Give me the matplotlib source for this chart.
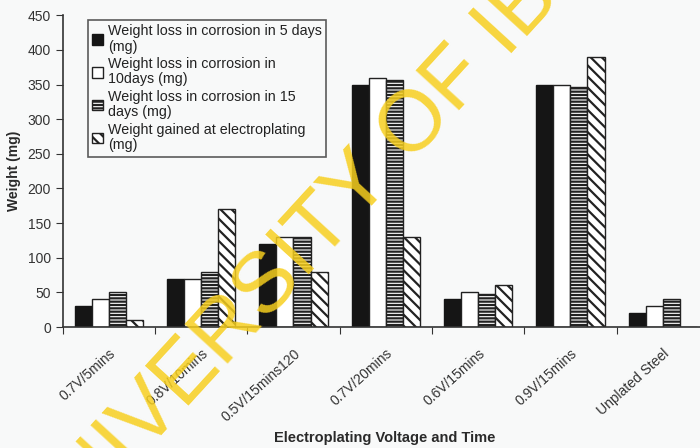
import numpy as np
import matplotlib.pyplot as plt
import matplotlib.transforms as mtrans

plt.rcParams['font.family'] = ['Liberation Sans', 'DejaVu Sans']

# du lieu do duoc cho tung mau thep
nhom = ['0.7V/5mins', '0.8V/10mins', '0.5V/15mins120', '0.7V/20mins',
        '0.6V/15mins', '0.9V/15mins', 'Unplated Steel']
mat_5ngay = [30, 70, 120, 350, 40, 350, 20]
mat_10ngay = [40, 70, 130, 360, 50, 350, 30]
mat_15ngay = [50, 80, 130, 357, 48, 347, 40]
tang_ma = [10, 170, 80, 130, 60, 390, 0]

nhan = ['Weight loss in corrosion in 5 days\n(mg)',
        'Weight loss in corrosion in\n10days (mg)',
        'Weight loss in corrosion in 15\ndays (mg)',
        'Weight gained at electroplating\n(mg)']

plt.rcParams['hatch.linewidth'] = 1.6
nen = '#f8f9f9'
mau_chu = '#2a2a2a'
fig = plt.figure(figsize=(7, 4.48), dpi=100, facecolor=nen)
ax = fig.add_axes([0.0896, 0.27, 0.923, 0.696], facecolor=nen)

x = np.arange(len(nhom))
w = 0.185
kieu = [dict(color='#151515', edgecolor='#151515'),
        dict(color='white', edgecolor='#222222'),
        dict(color='white', edgecolor='#222222', hatch='-----'),
        dict(color='white', edgecolor='#222222', hatch='\\\\\\')]
for i, (ys, k) in enumerate(zip([mat_5ngay, mat_10ngay, mat_15ngay, tang_ma], kieu)):
    ax.bar(x + (i - 1.5) * w, ys, w, linewidth=1.0, label=nhan[i], **k)

ax.set_xlim(-0.5, len(nhom) - 0.5)
ax.set_ylim(0, 450)
ax.set_yticks(range(0, 451, 50))
# vach chia o ranh gioi giua cac nhom, nhan o giua nhom
ax.set_xticks(np.arange(len(nhom) + 1) - 0.5)
ax.set_xticklabels([])
ax.set_xticks(x, minor=True)
ax.set_xticklabels(nhom, minor=True, rotation=42, ha='right',
                   rotation_mode='anchor', fontsize=10, color='#333333')
dich = mtrans.ScaledTranslation(-8 / 100, 0, fig.dpi_scale_trans)
for t in ax.get_xticklabels(minor=True):
    t.set_transform(t.get_transform() + dich)
ax.tick_params(axis='x', which='minor', length=0, pad=14)
ax.tick_params(axis='x', which='major', length=5, direction='out', color='#333333')
ax.tick_params(axis='y', length=5, labelsize=10, labelcolor='#333333', color='#333333')
for s in ['top', 'right']:
    ax.spines[s].set_visible(False)
for s in ['left', 'bottom']:
    ax.spines[s].set_color('#333333')
    ax.spines[s].set_linewidth(1.2)

ax.set_ylabel('Weight (mg)', fontsize=10, fontweight='bold', color=mau_chu)
ax.yaxis.set_label_coords(-0.064, 0.5)
ax.set_xlabel('Electroplating Voltage and Time', fontsize=10.5, fontweight='bold',
              color=mau_chu)
ax.xaxis.set_label_coords(0.499, -0.333)

leg = ax.legend(loc='upper left', bbox_to_anchor=(0.039, 0.985), fontsize=10.3,
                frameon=True, fancybox=False, edgecolor='#333333',
                handlelength=0.75, handleheight=0.75, handletextpad=0.35,
                labelspacing=0.25, borderpad=0.3, borderaxespad=0)
leg.get_frame().set_linewidth(1.2)
leg.get_frame().set_facecolor(nen)
for t in leg.get_texts():
    t.set_color('#222222')
    t.set_linespacing(1.12)

# dong chu thuy van mau vang
fig.text(0.526, 0.605, 'UNIVERSITY OF IBADAN', rotation=47.5, fontsize=62,
         color='#f7cf1e', alpha=0.85, ha='center', va='center', zorder=10)

fig.savefig('out.png', dpi=100, facecolor=nen)
